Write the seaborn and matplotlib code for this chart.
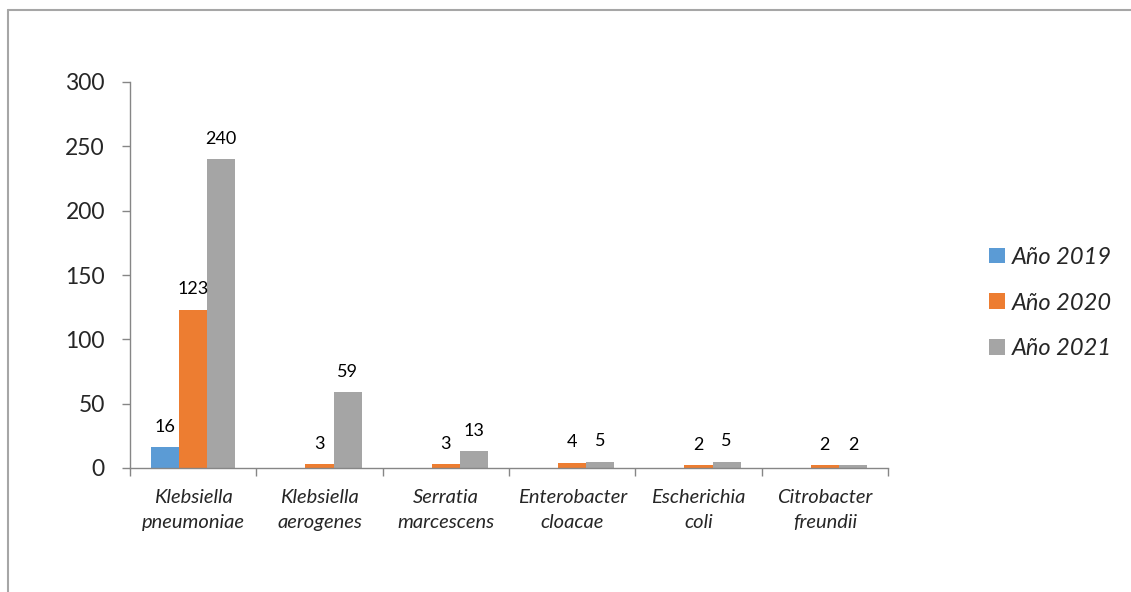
import matplotlib
matplotlib.use("Agg")
import matplotlib.pyplot as plt
from matplotlib.lines import Line2D
from matplotlib.patches import Patch
import numpy as np
import pandas as pd
import seaborn as sns

# Bacterial isolates per species and year
especies = [
    "Klebsiella\npneumoniae",
    "Klebsiella\naerogenes",
    "Serratia\nmarcescens",
    "Enterobacter\ncloacae",
    "Escherichia\ncoli",
    "Citrobacter\nfreundii",
]
anios = ["Año 2019", "Año 2020", "Año 2021"]
valores_2019 = [16, 0, 0, 0, 0, 0]
valores_2020 = [123, 3, 3, 4, 2, 2]
valores_2021 = [240, 59, 13, 5, 5, 2]
colores = ["#5B9BD5", "#ED7D31", "#A5A5A5"]

df = pd.DataFrame({
    "especie": especies * 3,
    "anio": [a for a in anios for _ in especies],
    "valor": valores_2019 + valores_2020 + valores_2021,
})

sns.set_style("white")
plt.rcParams["font.family"] = ["Lato", "DejaVu Sans"]

fig = plt.figure(figsize=(11.31, 5.92), dpi=100)
ax = fig.add_axes([130 / 1131, 1 - 468 / 592, 758 / 1131, 386 / 592])

sns.barplot(
    data=df, x="especie", y="valor", hue="anio", order=especies,
    hue_order=anios, palette=colores, saturation=1, width=0.667, gap=0,
    linewidth=0, legend=False, ax=ax,
)

# Value labels above each non-zero bar
for cont in ax.containers:
    labels = [f"{v:.0f}" if v > 0 else "" for v in cont.datavalues]
    ax.bar_label(cont, labels=labels, padding=9, fontsize=13, color="black")

ax.set_xlim(-0.5, len(especies) - 0.5)
ax.set_ylim(0, 300)
ax.set_yticks(np.arange(0, 301, 50))
ax.set_xlabel("")
ax.set_ylabel("")

grey = "#868686"
for side in ["top", "right"]:
    ax.spines[side].set_visible(False)
for side in ["left", "bottom"]:
    ax.spines[side].set_color(grey)
    ax.spines[side].set_linewidth(1.0)

ax.tick_params(axis="y", which="major", length=6, width=1.0, color=grey,
               pad=12, labelsize=16.5, left=True, direction="out")
ax.tick_params(axis="x", which="major", length=0, pad=15)
ax.set_xticks(np.arange(-0.5, len(especies), 1.0), minor=True)
ax.tick_params(axis="x", which="minor", length=6, width=1.0, color=grey,
               bottom=True, direction="out")
for lab in ax.get_xticklabels():
    lab.set_fontstyle("italic")
    lab.set_fontsize(14.5)
    lab.set_linespacing(1.55)

handles = [Patch(facecolor=c, edgecolor="none") for c in colores]
leg = fig.legend(
    handles, anios, loc="center left", bbox_to_anchor=(968 / 1131, 1 - 303 / 592),
    frameon=False, handlelength=0.65, handleheight=0.65, handletextpad=0.3,
    labelspacing=1.05, prop={"style": "italic", "size": 17},
)

# Chart-area border (top and left edges)
frame_c = "#A6A6A6"
fig.add_artist(Line2D([8 / 1131, 1.0], [1 - 10 / 592, 1 - 10 / 592],
                      transform=fig.transFigure, color=frame_c, lw=1.5))
fig.add_artist(Line2D([8 / 1131, 8 / 1131], [0.0, 1 - 10 / 592],
                      transform=fig.transFigure, color=frame_c, lw=1.5))

fig.savefig("out.png", dpi=100, facecolor="white")
